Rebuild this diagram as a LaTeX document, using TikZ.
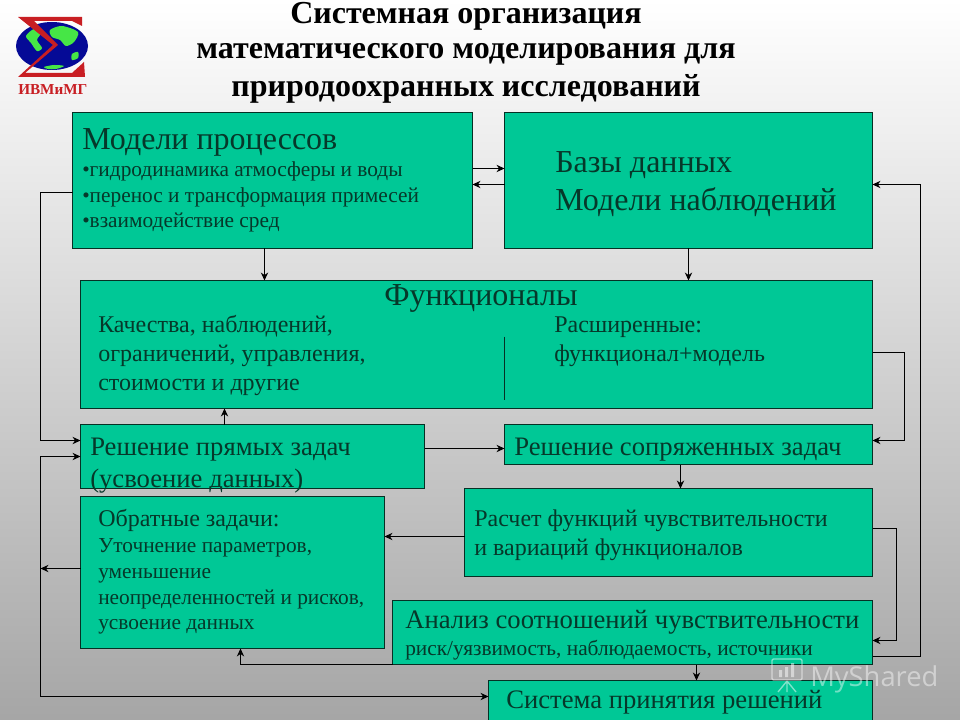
\documentclass[tikz,border=0pt]{standalone}
\usepackage{fontspec}
\setmainfont{Liberation Serif}
\newfontfamily\marksans{Open Sans}
\usepackage{xcolor}
\usetikzlibrary{arrows.meta,calc}
\definecolor{boxgreen}{RGB}{0,200,150}
\definecolor{boxline}{RGB}{6,48,36}
\definecolor{boxtext}{RGB}{6,56,42}
\definecolor{logored}{RGB}{200,30,35}
\definecolor{logoblue}{RGB}{5,10,150}
\definecolor{logogreen}{RGB}{70,230,70}

\begin{document}
\begin{tikzpicture}[x=0.75pt, y=-0.75pt, >={Stealth[length=6pt, width=5.5pt]},
 box/.style = {rectangle, draw=boxline, fill=boxgreen, line width=0.75pt, inner sep=0pt, outer sep=0pt},
 lab/.style = {anchor=base west, inner sep=0pt, text=boxtext},
 head/.style = {anchor=base, inner sep=0pt, text=black, font=\fontsize{24pt}{28pt}\selectfont\bfseries},
 link/.style = {->, line width=0.75pt, black},
 huge/.style = {font=\fontsize{24pt}{28pt}\selectfont},
 large/.style = {font=\fontsize{20pt}{24pt}\selectfont},
 mid/.style = {font=\fontsize{18pt}{22pt}\selectfont},
 small/.style = {font=\fontsize{16pt}{20pt}\selectfont}]

\useasboundingbox (0,0) rectangle (960,720);
\shade[top color=white, middle color=white!86!black, bottom color=white!65!black] (0,0) rectangle (960,720);

% logo
\fill[logoblue] (52,46) ellipse (36 and 24);
\fill[logogreen] plot[smooth cycle] coordinates {(50,30) (62,26) (78,32) (74,42) (66,46) (60,40) (52,37)};
\fill[logogreen] plot[smooth cycle] coordinates {(26,36) (34,29) (41,33) (37,40) (42,48) (37,51) (31,43)};
\fill[logogreen] plot[smooth cycle] coordinates {(44,67) (54,65) (64,66) (56,69) (48,69)};
\fill[logogreen] plot[smooth cycle] coordinates {(72,54) (78,52) (78,58) (72,60)};
\fill[logored] (18,17) -- (82,17) -- (82,26) -- (72,21) -- (34,21) -- (58,45) -- (25,73) -- (72,73) -- (84,62) -- (85,77) -- (18,77) -- (53,45) -- cycle;
\node[inner sep=0pt, anchor=base west, text=logored, font=\fontsize{11.4pt}{14pt}\selectfont\bfseries] (logotext) at (18,95) {ИВМиМГ};

% title
\node[head] (title1) at (466,24) {Системная организация};
\node[head] (title2) at (466,58.5) {математического моделирования для};
\node[head] (title3) at (466,97) {природоохранных исследований};

% boxes
\node[box, minimum width=300pt, minimum height=102pt] (models) at (272.5,180.5) {};
\node[box, minimum width=276pt, minimum height=102pt] (data) at (688.5,180.5) {};
\node[box, minimum width=594pt, minimum height=96pt] (func) at (476.5,344.5) {};
\node[box, minimum width=258pt, minimum height=48pt] (direct) at (252.5,456.5) {};
\node[box, minimum width=276pt, minimum height=30pt] (adjoint) at (688.5,444.5) {};
\node[box, minimum width=306pt, minimum height=66pt] (sens) at (668.5,532.5) {};
\node[box, minimum width=228pt, minimum height=114pt] (inverse) at (232.5,572.5) {};
\node[box, minimum width=360pt, minimum height=48pt] (analysis) at (632.5,632.5) {};
\node[box, minimum width=288pt, minimum height=36pt] (system) at (680.5,704.5) {};

% texts
\node[lab, huge] (m0) at (82,149.5) {Модели процессов};
\node[lab, small] (m1) at (82,177) {•гидродинамика атмосферы и воды};
\node[lab, small] (m2) at (82,203) {•перенос и трансформация примесей};
\node[lab, small] (m3) at (82,228) {•взаимодействие  сред};
\node[lab, huge] (d1) at (555,173) {Базы данных};
\node[lab, huge] (d2) at (555,211) {Модели наблюдений};
\node[lab, huge] (f0) at (384,305.5) {Функционалы};
\node[lab, mid] (f1) at (98,332) {Качества, наблюдений,};
\node[lab, mid] (f2) at (98,361) {ограничений, управления,};
\node[lab, mid] (f3) at (98,390) {стоимости и другие};
\node[lab, mid] (f4) at (554,332) {Расширенные:};
\node[lab, mid] (f5) at (554,361) {функционал+модель};
\node[lab, large] (s1) at (90,455.5) {Решение прямых задач};
\node[lab, large] (s2) at (90,487) {(усвоение данных)};
\node[lab, large] (a1) at (514,455.5) {Решение сопряженных задач};
\node[lab, mid] (i0) at (98,526) {Обратные задачи:};
\node[lab, small] (i1) at (98,552) {Уточнение параметров,};
\node[lab, small] (i2) at (98,578) {уменьшение};
\node[lab, small] (i3) at (98,604) {неопределенностей и рисков,};
\node[lab, small] (i4) at (98,629) {усвоение данных};
\node[lab, mid] (c1) at (474,526) {Расчет функций чувствительности};
\node[lab, mid] (c2) at (474,555) {и вариаций функционалов};
\node[lab, large] (n1) at (405,628.5) {Анализ соотношений чувствительности};
\node[lab, small] (n2) at (405,655) {риск/уязвимость, наблюдаемость, источники};
\node[lab, large] (y1) at (506,708) {Система принятия решений};

% rails
\coordinate (railleft) at (40.5,0);
\coordinate (railfunc) at (904.5,0);
\coordinate (railsens) at (896.5,0);
\coordinate (railright) at (920.5,0);

% connectors
\draw[boxline, line width=0.6pt] (504.5,336.5) coordinate (div1) -- (504.5,400) coordinate (div2);
\draw[link] (models.east |- 0,168.5) -- (data.west |- 0,168.5);
\draw[link] (data.west |- 0,184.5) -- (models.east |- 0,184.5);
\draw[link] (models.south -| 264.5,0) -- (func.north -| 264.5,0);
\draw[link] (data.south) -- (func.north -| data.south);
\draw[link] (models.west |- 0,192.5) -- (railleft |- 0,192.5) -- (railleft |- 0,440.5) -- (direct.west |- 0,440.5);
\draw[link] (func.east |- 0,352.5) -- (railfunc |- 0,352.5) -- (railfunc |- 0,440.5) -- (adjoint.east |- 0,440.5);
\draw[link] (direct.north -| 224.5,0) -- (func.south -| 224.5,0);
\draw[link] (direct.east |- 0,448.5) -- (adjoint.west |- 0,448.5);
\draw[link] (adjoint.south -| 680.5,0) -- (sens.north -| 680.5,0);
\draw[link] (sens.west |- 0,536.5) -- (inverse.east |- 0,536.5);
\draw[link] (sens.east |- 0,528.5) -- (railsens |- 0,528.5) -- (railsens |- 0,640.5) -- (analysis.east |- 0,640.5);
\draw[link] (analysis.south -| 696.5,0) -- (system.north -| 696.5,0);
\draw[link] (analysis.south west) -- (analysis.south -| 240.5,0) -- (inverse.south -| 240.5,0);
\draw[link] (analysis.east |- 0,656.5) -- (railright |- 0,656.5) -- (railright |- 0,184.5) -- (data.east |- 0,184.5);
\draw[link] (inverse.west |- 0,568.5) -- (railleft |- 0,568.5);
\draw[link, <->] (direct.west |- 0,456.5) -- (railleft |- 0,456.5) -- (railleft |- 0,696.5) -- (system.west |- 0,696.5);

% watermark
\node[inner sep=0pt, anchor=base west, text=white, opacity=0.45, font=\fontsize{20.5pt}{24pt}\marksans] (mark) at (810,686) {MyShared};
\draw[white, opacity=0.5, line width=1pt, rounded corners=1pt] (772,659) rectangle (802,680);
\fill[white, opacity=0.5] (779,670) rectangle (782,677) (785,667) rectangle (788,677) (791,663) rectangle (794,677);
\draw[white, opacity=0.5, line width=1pt] (787,681) -- (778,692) (787,681) -- (787,692) (787,681) -- (796,692);
\end{tikzpicture}
\end{document}
